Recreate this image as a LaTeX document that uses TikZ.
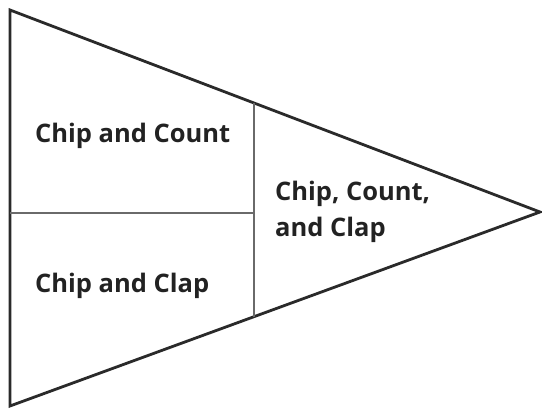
\documentclass[tikz,border=0pt]{standalone}
\usepackage{fontspec}
\setmainfont{Open Sans}
\definecolor{edge}{HTML}{2A2A2A}
\definecolor{inner}{HTML}{6A6A6A}
\definecolor{txt}{HTML}{222222}
\begin{document}
\begin{tikzpicture}[x=1pt,y=-1pt,
  outline/.style={draw=edge,line width=2.8pt,line join=miter},
  divider/.style={draw=inner,line width=2.8pt},
  lbl/.style={inner sep=0pt,text=txt,font=\fontsize{25.5}{36}\selectfont\bfseries,align=left}]
\useasboundingbox (0,0) rectangle (542,409);
\coordinate (A) at (10,10);
\coordinate (B) at (10,406);
\coordinate (C) at (540,212);
\coordinate (T) at (254,103);
\coordinate (U) at (254,317);
\coordinate (L) at (10,213);
\coordinate (M) at (254,213);
\draw[outline] (A) -- (C) -- (B) -- cycle;
\draw[divider] (T) -- (U);
\draw[divider] (L) -- (M);
\node[lbl,anchor=base west] (cc) at (35,143) {Chip and Count};
\node[lbl,anchor=base west] (cl) at (35,293) {Chip and Clap};
\node[lbl,anchor=base west] (ccc) at (275,237) {Chip, Count,\\and Clap};
\end{tikzpicture}
\end{document}
